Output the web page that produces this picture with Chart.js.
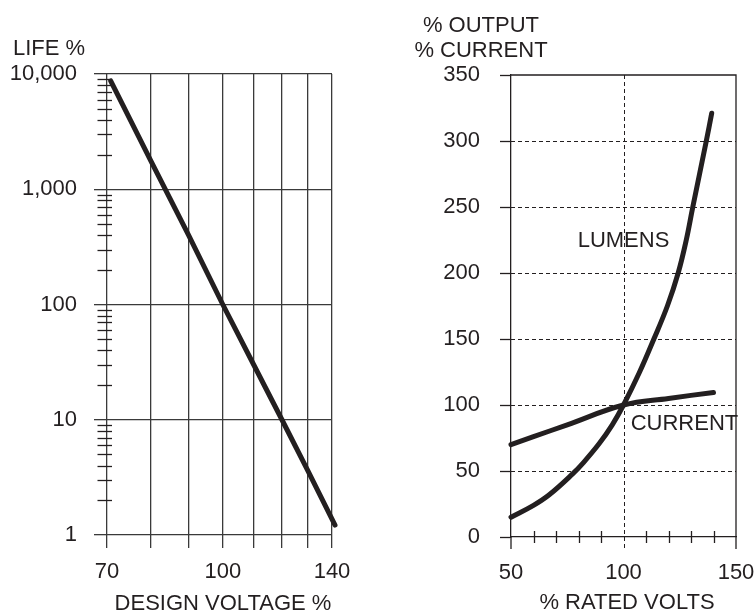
<!DOCTYPE html>
<html><head><meta charset="utf-8">
<script src="https://cdn.jsdelivr.net/npm/chart.js@4.4.1/dist/chart.umd.min.js"></script>
<style>
html,body{margin:0;padding:0;background:#fff;}
#wrap{position:relative;width:754px;height:611px;overflow:hidden;background:#fff;}
.box{position:absolute;top:0;height:611px;}
</style></head><body>
<div id="wrap">
<div class="box" style="left:0;width:377px"><canvas id="c1" width="377" height="611"></canvas></div>
<div class="box" style="left:377px;width:390px"><canvas id="c2" width="390" height="611"></canvas></div>
</div>
<script>
// ---- Left chart: life vs design voltage (log-log) ----
const lifeVoltage = [70.8, 80, 90, 100, 110, 120, 130, 141.3];
const lifePct     = [8700, 1800, 400, 100, 30, 10, 3.6, 1.22];
const lifeXTicks  = [70, 80, 90, 100, 110, 120, 130, 140];
const lifeXLabels = [70, 100, 140];
const lifeYLabels = [1, 10, 100, 1000, 10000];

// ---- Right chart: output / current vs rated volts ----
const lumensVolts  = [50, 60, 67, 77.5, 82, 89.3, 95, 100, 106.9, 113.5, 119.5, 124.3, 127.9, 130.8, 136.8, 139.2];
const lumensPct    = [15, 24, 32, 48, 56, 71, 85, 100, 124, 150, 175, 200, 225, 250, 300, 321];
const currentVolts = [50, 60, 75, 100, 120, 140];
const currentPct   = [70, 76, 85, 100, 105, 109.5];
const ratedXTicks  = [50, 60, 70, 80, 90, 100, 110, 120, 130, 140, 150];
const ratedXLabels = [50, 100, 150];
const ratedYTicks  = [0, 50, 100, 150, 200, 250, 300, 350];

const DARK = '#231f20';
const GRID = '#3a3a3a';
const FAMILY = "'Liberation Sans', Arial, Helvetica, sans-serif";
const FSIZE = 22;

function minorLogTicks() {
  const t = [];
  for (const d of [1, 10, 100, 1000]) for (let k = 1; k <= 9; k++) t.push(d * k);
  t.push(10000);
  return t;
}
const isDecade = v => lifeYLabels.includes(v);

const leftPlugin = {
  id: 'leftExtras',
  afterDraw(chart) {
    const ctx = chart.ctx, y = chart.scales.y;
    const left = chart.chartArea.left;
    ctx.save();
    ctx.strokeStyle = DARK; ctx.lineWidth = 1.3;
    for (const t of y.ticks) {
      if (isDecade(t.value)) continue;
      const py = Math.round(y.getPixelForValue(t.value)) + 0.5;
      ctx.beginPath(); ctx.moveTo(left - 9.5, py); ctx.lineTo(left + 5, py); ctx.stroke();
    }
    ctx.fillStyle = DARK;
    ctx.font = FSIZE + 'px ' + FAMILY;
    ctx.textBaseline = 'alphabetic';
    ctx.textAlign = 'left';
    ctx.fillText('LIFE %', 13, 55);
    ctx.textAlign = 'center';
    ctx.fillText('DESIGN VOLTAGE %', 223, 610);
    ctx.restore();
  }
};

new Chart(document.getElementById('c1'), {
  type: 'line',
  data: { datasets: [{
    data: lifeVoltage.map((v, i) => ({ x: v, y: lifePct[i] })),
    borderColor: DARK, borderWidth: 5, borderCapStyle: 'round', borderJoinStyle: 'round',
    pointRadius: 0, tension: 0, fill: false, clip: false
  }]},
  options: {
    responsive: false, animation: false, devicePixelRatio: 1,
    layout: { padding: { left: 0, right: 45, top: 74, bottom: 0 } },
    plugins: { legend: { display: false }, tooltip: { enabled: false } },
    scales: {
      x: {
        type: 'logarithmic', min: 70, max: 140,
        afterBuildTicks: s => { s.ticks = lifeXTicks.map(v => ({ value: v })); },
        afterFit: s => { s.height = 611 - 535; },
        ticks: {
          autoSkip: false, maxRotation: 0, padding: 11, color: DARK,
          font: { family: FAMILY, size: FSIZE },
          callback: v => lifeXLabels.includes(v) ? String(v) : ''
        },
        grid: { color: GRID, lineWidth: 1.3, tickLength: 13, tickColor: GRID },
        border: { display: false }
      },
      y: {
        type: 'logarithmic', min: 1, max: 10000,
        afterBuildTicks: s => { s.ticks = minorLogTicks().map(v => ({ value: v })); },
        afterFit: s => { s.width = 107; },
        ticks: {
          autoSkip: false, padding: 17, color: DARK,
          font: { family: FAMILY, size: FSIZE },
          callback: v => isDecade(v) ? v.toLocaleString('en-US') : ''
        },
        grid: {
          lineWidth: 1.3, tickLength: 13,
          color: c => (c.tick && isDecade(c.tick.value)) ? GRID : 'rgba(0,0,0,0)',
          tickColor: c => (c.tick && isDecade(c.tick.value)) ? GRID : 'rgba(0,0,0,0)'
        },
        border: { display: false }
      }
    }
  },
  plugins: [leftPlugin]
});

const rightPlugin = {
  id: 'rightExtras',
  beforeDatasetsDraw(chart) {
    const ctx = chart.ctx, x = chart.scales.x, y = chart.scales.y;
    const a = chart.chartArea;
    ctx.save();
    ctx.strokeStyle = DARK; ctx.lineWidth = 1;
    ctx.setLineDash([4, 3]);
    for (const v of ratedYTicks) {
      if (v === 0 || v === 350) continue;
      const py = Math.round(y.getPixelForValue(v)) + 0.5;
      ctx.beginPath(); ctx.moveTo(a.left, py); ctx.lineTo(a.right, py); ctx.stroke();
    }
    const px100 = Math.round(x.getPixelForValue(100)) + 0.5;
    ctx.beginPath(); ctx.moveTo(px100, a.top); ctx.lineTo(px100, a.bottom + 12); ctx.stroke();
    ctx.setLineDash([]);
    ctx.lineWidth = 1.3;
    const pTop = y.getPixelForValue(350), pRight = x.getPixelForValue(150);
    ctx.beginPath(); ctx.moveTo(a.left, pTop); ctx.lineTo(pRight, pTop); ctx.lineTo(pRight, a.bottom + 12); ctx.stroke();
    const pl = x.getPixelForValue(50);
    ctx.beginPath(); ctx.moveTo(pl, a.bottom); ctx.lineTo(pl, a.bottom + 12); ctx.stroke();
    for (const v of ratedXTicks) {
      if (v === 50 || v === 100 || v === 150) continue;
      const px = Math.round(x.getPixelForValue(v)) + 0.5;
      ctx.beginPath(); ctx.moveTo(px, a.bottom - 6); ctx.lineTo(px, a.bottom + 6); ctx.stroke();
    }
    ctx.restore();
  },
  afterDraw(chart) {
    const ctx = chart.ctx, x = chart.scales.x, y = chart.scales.y;
    ctx.save();
    ctx.fillStyle = DARK;
    ctx.font = FSIZE + 'px ' + FAMILY;
    ctx.textBaseline = 'alphabetic';
    ctx.textAlign = 'center';
    ctx.fillText('% OUTPUT', 104, 32);
    ctx.fillText('% CURRENT', 104, 57);
    ctx.fillText('LUMENS', x.getPixelForValue(100), y.getPixelForValue(220));
    ctx.fillText('% RATED VOLTS', 250, 609);
    ctx.textAlign = 'left';
    ctx.fillText('CURRENT', x.getPixelForValue(103.2), y.getPixelForValue(81));
    ctx.restore();
  }
};

new Chart(document.getElementById('c2'), {
  type: 'line',
  data: { datasets: [
    { data: lumensVolts.map((v, i) => ({ x: v, y: lumensPct[i] })),
      borderColor: DARK, borderWidth: 5, borderCapStyle: 'round', borderJoinStyle: 'round',
      pointRadius: 0, tension: 0.4, fill: false, clip: false },
    { data: currentVolts.map((v, i) => ({ x: v, y: currentPct[i] })),
      borderColor: DARK, borderWidth: 5, borderCapStyle: 'round', borderJoinStyle: 'round',
      pointRadius: 0, tension: 0.4, fill: false, clip: false }
  ]},
  options: {
    responsive: false, animation: false, devicePixelRatio: 1,
    layout: { padding: { left: 0, right: 31, top: 75, bottom: 0 } },
    plugins: { legend: { display: false }, tooltip: { enabled: false } },
    scales: {
      x: {
        type: 'linear', min: 50, max: 150,
        afterBuildTicks: s => { s.ticks = ratedXTicks.map(v => ({ value: v })); },
        afterFit: s => { s.height = 611 - 537; },
        ticks: {
          autoSkip: false, maxRotation: 0, padding: 11, color: DARK,
          font: { family: FAMILY, size: FSIZE },
          callback: v => ratedXLabels.includes(v) ? String(v) : ''
        },
        grid: { drawOnChartArea: false, tickLength: 12, tickColor: 'rgba(0,0,0,0)', color: 'rgba(0,0,0,0)' },
        border: { display: true, color: DARK, width: 1.3 }
      },
      y: {
        type: 'linear', min: 0, max: 350,
        afterBuildTicks: s => { s.ticks = ratedYTicks.map(v => ({ value: v })); },
        afterFit: s => { s.width = 134; },
        ticks: {
          autoSkip: false, padding: 20, color: DARK,
          font: { family: FAMILY, size: FSIZE }
        },
        grid: { drawOnChartArea: false, tickLength: 11, tickColor: DARK, tickWidth: 1.3, color: DARK },
        border: { display: true, color: DARK, width: 1.3 }
      }
    }
  },
  plugins: [rightPlugin]
});
</script>
</body></html>
